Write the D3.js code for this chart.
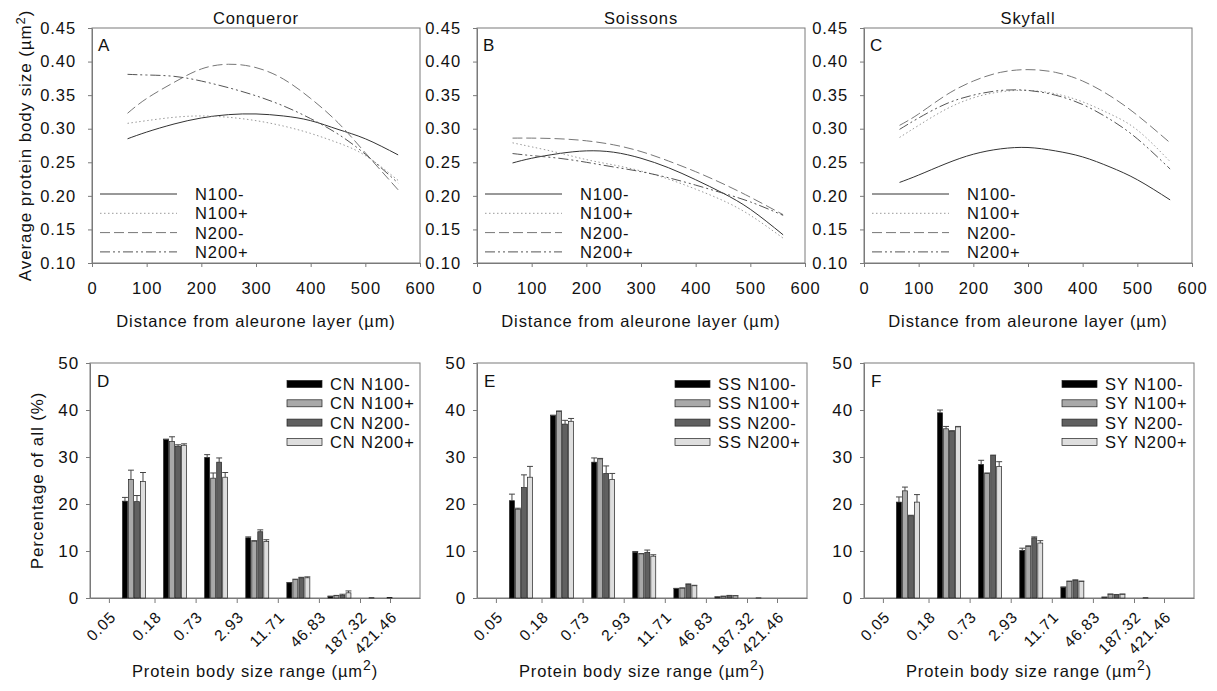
<!DOCTYPE html>
<html><head><meta charset="utf-8">
<script src="https://cdn.jsdelivr.net/npm/d3@7"></script>
<style>
body{margin:0;background:#fff;}
text{font-family:"Liberation Sans",Arial,sans-serif;fill:#111;}
</style></head>
<body><svg id="c" width="1217" height="691"></svg>
<script>
// ---------- DATA ----------
const treatments = ["N100-","N100+","N200-","N200+"];
const distance = [65,100,150,200,250,300,350,400,450,500,560];
// average protein body size (µm²) per treatment [N100-, N100+, N200-, N200+]
const conquerorSize = [
  [0.285,0.295,0.307,0.316,0.321,0.322,0.319,0.312,0.299,0.285,0.261],
  [0.308,0.312,0.317,0.319,0.317,0.312,0.304,0.293,0.279,0.260,0.223],
  [0.323,0.345,0.369,0.389,0.396,0.391,0.374,0.345,0.309,0.264,0.209],
  [0.381,0.380,0.378,0.371,0.361,0.349,0.334,0.315,0.292,0.262,0.219]
];
const soissonsSize = [
  [0.249,0.256,0.263,0.267,0.265,0.256,0.242,0.224,0.204,0.180,0.142],
  [0.279,0.273,0.264,0.254,0.246,0.237,0.225,0.210,0.193,0.171,0.137],
  [0.286,0.286,0.285,0.282,0.276,0.266,0.252,0.236,0.218,0.198,0.172],
  [0.263,0.260,0.256,0.250,0.243,0.236,0.227,0.216,0.204,0.191,0.171]
];
const skyfallSize = [
  [0.220,0.231,0.248,0.262,0.270,0.272,0.267,0.258,0.243,0.224,0.194],
  [0.287,0.305,0.329,0.346,0.355,0.357,0.352,0.340,0.322,0.298,0.251],
  [0.305,0.322,0.350,0.371,0.384,0.388,0.384,0.371,0.349,0.320,0.279],
  [0.299,0.316,0.337,0.350,0.357,0.357,0.350,0.336,0.314,0.285,0.240]
];
const varieties = ["Conqueror","Soissons","Skyfall"];
const yTicksSize = [0.10,0.15,0.20,0.25,0.30,0.35,0.40,0.45];
const xTicksDist = [0,100,200,300,400,500,600];

// bar charts: percentage per size bin (7 bins) per treatment
const sizeBins = ["0.05-0.18","0.18-0.73","0.73-2.93","2.93-11.71","11.71-46.83","46.83-187.32","187.32-421.46"];
const sizeTickLabels = ["0.05","0.18","0.73","2.93","11.71","46.83","187.32","421.46"];
const sizeTickAt = [-0.61,0.5,1.5,2.5,3.5,4.5,5.5,6.23]; // in bin-index units
const cnPct = [
  [20.6,33.7,29.9,12.8,3.2,0.35,0.05],
  [25.2,33.3,25.5,12.1,3.9,0.5,0.0],
  [20.5,32.3,28.9,14.1,4.3,0.6,0.0],
  [24.8,32.5,25.7,12.0,4.3,1.1,0.1]
];
const cnErr = [
  [0.8,0.1,0.6,0.2,0.1,0.05,0],
  [2.0,1.0,1.1,0.1,0.1,0.05,0],
  [1.3,0.3,0.9,0.4,0.1,0.2,0],
  [1.9,0.3,1.0,0.4,0.2,0.4,0]
];
const ssPct = [
  [20.7,38.8,28.9,9.7,2.0,0.2,0.02],
  [18.9,39.7,29.6,9.4,2.1,0.35,0.0],
  [23.5,37.0,26.5,9.7,2.9,0.5,0.0],
  [25.7,37.6,25.2,8.9,2.6,0.45,0.0]
];
const ssErr = [
  [1.4,0.1,0.9,0.2,0.05,0.05,0],
  [0.2,0.1,0.1,0.05,0.05,0.05,0],
  [2.7,0.8,1.6,0.5,0.1,0.05,0],
  [2.3,0.6,1.3,0.3,0.1,0.05,0]
];
const syPct = [
  [20.4,39.4,28.4,10.1,2.3,0.15,0.05],
  [22.8,36.0,26.5,11.0,3.5,0.8,0.0],
  [17.5,35.5,30.3,12.8,3.8,0.7,0.0],
  [20.4,36.4,28.0,11.7,3.5,0.8,0.0]
];
const syErr = [
  [1.1,0.6,0.9,0.5,0.05,0.05,0],
  [0.8,0.5,0.1,0.1,0.1,0.05,0],
  [0.1,0.1,0.1,0.2,0.05,0.05,0],
  [1.6,0.1,1.0,0.5,0.1,0.05,0]
];
const barPrefixes = ["CN","SS","SY"];
const yTicksPct = [0,10,20,30,40,50];

// ---------- STYLE ----------
const frameColor = "#7a7a7a";
const lineStyles = [
  {stroke:"#333", dash:null},
  {stroke:"#9a9a9a", dash:"1.5,2.5"},
  {stroke:"#777", dash:"10,4"},
  {stroke:"#555", dash:"10,3,2,3,2,3"}
];
const barFills = ["#000000","#a9a9a9","#606060","#dedede"];
const LS = "0.9px";

const svg = d3.select("#c");

function styleAxis(g, fs){
  g.selectAll(".domain").attr("stroke", frameColor);
  g.selectAll(".tick line").attr("stroke", frameColor);
  g.selectAll(".tick text").attr("font-size", fs).attr("fill","#111")
    .attr("font-family","Liberation Sans, Arial, sans-serif").style("letter-spacing", LS);
}

// ---------- LINE PANELS ----------
const linePanels = [
  {left:92, data:conquerorSize, letter:"A"},
  {left:477, data:soissonsSize, letter:"B"},
  {left:864, data:skyfallSize, letter:"C"}
];
const lpTop = 28, lpBottom = 263, lpW = 328;

linePanels.forEach((p, pi) => {
  const x = d3.scaleLinear().domain([0,600]).range([p.left, p.left+lpW]);
  const y = d3.scaleLinear().domain([0.10,0.45]).range([lpBottom, lpTop]);
  const g = svg.append("g");
  g.append("rect").attr("x",p.left).attr("y",lpTop).attr("width",lpW).attr("height",lpBottom-lpTop)
    .attr("fill","none").attr("stroke",frameColor);
  const ya = g.append("g").attr("transform",`translate(${p.left},0)`)
    .call(d3.axisLeft(y).tickValues(yTicksSize).tickFormat(d3.format(".2f")).tickSize(4).tickSizeOuter(0).tickPadding(12));
  styleAxis(ya, 16.5);
  const xa = g.append("g").attr("transform",`translate(0,${lpBottom})`)
    .call(d3.axisBottom(x).tickValues(xTicksDist).tickFormat(d3.format("d")).tickSize(4).tickSizeOuter(0).tickPadding(15));
  styleAxis(xa, 16.5);

  const line = d3.line().x((d,i)=>x(distance[i])).y(d=>y(d)).curve(d3.curveNatural);
  p.data.forEach((s, si) => {
    g.append("path").attr("d", line(s)).attr("fill","none")
      .attr("stroke", lineStyles[si].stroke).attr("stroke-width",1)
      .attr("stroke-dasharray", lineStyles[si].dash);
  });
  // legend
  treatments.forEach((t, ti) => {
    const ly = 194 + ti*19.3;
    g.append("line").attr("x1",p.left+8).attr("x2",p.left+85).attr("y1",ly).attr("y2",ly)
      .attr("stroke", lineStyles[ti].stroke).attr("stroke-width",1).attr("stroke-dasharray", lineStyles[ti].dash);
    g.append("text").attr("x",p.left+103).attr("y",ly+6).attr("font-size",16.5)
      .style("letter-spacing",LS).text(t);
  });
  g.append("text").attr("x",p.left+6).attr("y",51).attr("font-size",17).text(p.letter);
  g.append("text").attr("x",p.left+lpW/2).attr("y",24).attr("text-anchor","middle")
    .attr("font-size",16.5).style("letter-spacing",LS).text(varieties[pi]);
  g.append("text").attr("x",p.left+lpW/2).attr("y",327).attr("text-anchor","middle")
    .attr("font-size",16.5).style("letter-spacing",LS).text("Distance from aleurone layer (µm)");
});

// y title (top)
{
  const t = svg.append("text").attr("transform",`translate(31,${(lpTop+lpBottom)/2}) rotate(-90)`)
    .attr("text-anchor","middle").attr("font-size",17).style("letter-spacing",LS);
  t.append("tspan").text("Average protein body size (µm");
  t.append("tspan").attr("dy",-6).attr("font-size",13).text("2");
  t.append("tspan").attr("dy",6).text(")");
}

// ---------- BAR PANELS ----------
const barPanels = [
  {left:90, pct:cnPct, err:cnErr, letter:"D"},
  {left:477, pct:ssPct, err:ssErr, letter:"E"},
  {left:864, pct:syPct, err:syErr, letter:"F"}
];
const bpTop = 363, bpBottom = 598, bpW = 330;
const groupWidth = 0.585;

barPanels.forEach((p, pi) => {
  const x = d3.scaleLinear().domain([-1.07, 6.96]).range([p.left, p.left+bpW]);
  const y = d3.scaleLinear().domain([0,50]).range([bpBottom, bpTop]);
  const g = svg.append("g");
  g.append("rect").attr("x",p.left).attr("y",bpTop).attr("width",bpW).attr("height",bpBottom-bpTop)
    .attr("fill","none").attr("stroke",frameColor);
  const ya = g.append("g").attr("transform",`translate(${p.left},0)`)
    .call(d3.axisLeft(y).tickValues(yTicksPct).tickFormat(d3.format("d")).tickSize(4).tickSizeOuter(0).tickPadding(7));
  styleAxis(ya, 17);
  const xa = g.append("g").attr("transform",`translate(0,${bpBottom})`)
    .call(d3.axisBottom(x).tickValues(sizeTickAt).tickFormat("").tickSize(5).tickSizeOuter(0));
  styleAxis(xa, 15);
  // rotated tick labels
  g.selectAll("text.xlab").data(sizeTickAt).join("text").attr("class","xlab")
    .attr("text-anchor","end").attr("font-size",15.5).style("letter-spacing",LS)
    .attr("transform", d => `translate(${x(d)+8},${bpBottom+20}) rotate(-45)`)
    .text((d,i) => sizeTickLabels[i]);

  const slot = groupWidth / treatments.length;
  const bw = x(slot*0.82) - x(0);
  treatments.forEach((t, ti) => {
    p.pct[ti].forEach((v, bi) => {
      if (v <= 0) return;
      const cx = bi - groupWidth/2 + slot*(ti+0.5);
      const xl = x(cx) - bw/2;
      g.append("rect").attr("x",xl).attr("y",y(v)).attr("width",bw).attr("height",y(0)-y(v))
        .attr("fill",barFills[ti]).attr("stroke","#222").attr("stroke-width",0.7);
      const e = p.err[ti][bi];
      if (e > 0) {
        g.append("line").attr("x1",x(cx)).attr("x2",x(cx)).attr("y1",y(v)).attr("y2",y(v+e))
          .attr("stroke","#444").attr("stroke-width",1);
        g.append("line").attr("x1",xl-0.5).attr("x2",xl+bw+0.5).attr("y1",y(v+e)).attr("y2",y(v+e))
          .attr("stroke","#444").attr("stroke-width",1);
      }
    });
    // legend
    const ly = 384 + ti*19.3;
    const lx = pi===0 ? p.left+197 : p.left+198;
    g.append("rect").attr("x",lx).attr("y",ly-3.5).attr("width",35).attr("height",7)
      .attr("fill",barFills[ti]).attr("stroke","#222").attr("stroke-width",0.7);
    g.append("text").attr("x",lx+43).attr("y",ly+6).attr("font-size",16.5).style("letter-spacing",LS)
      .text(barPrefixes[pi]+" "+t);
  });
  g.append("text").attr("x",p.left+7).attr("y",387).attr("font-size",17).text(p.letter);
  const xt = g.append("text").attr("x",p.left+bpW/2).attr("y",677).attr("text-anchor","middle")
    .attr("font-size",16.5).style("letter-spacing",LS);
  xt.append("tspan").text("Protein body size range (µm");
  xt.append("tspan").attr("dy",-7).attr("font-size",14).text("2");
  xt.append("tspan").attr("dy",7).text(")");
});

svg.append("text").attr("transform",`translate(43,${(bpTop+bpBottom)/2}) rotate(-90)`)
  .attr("text-anchor","middle").attr("font-size",17).style("letter-spacing",LS).text("Percentage of all (%)");
</script>
</body></html>
